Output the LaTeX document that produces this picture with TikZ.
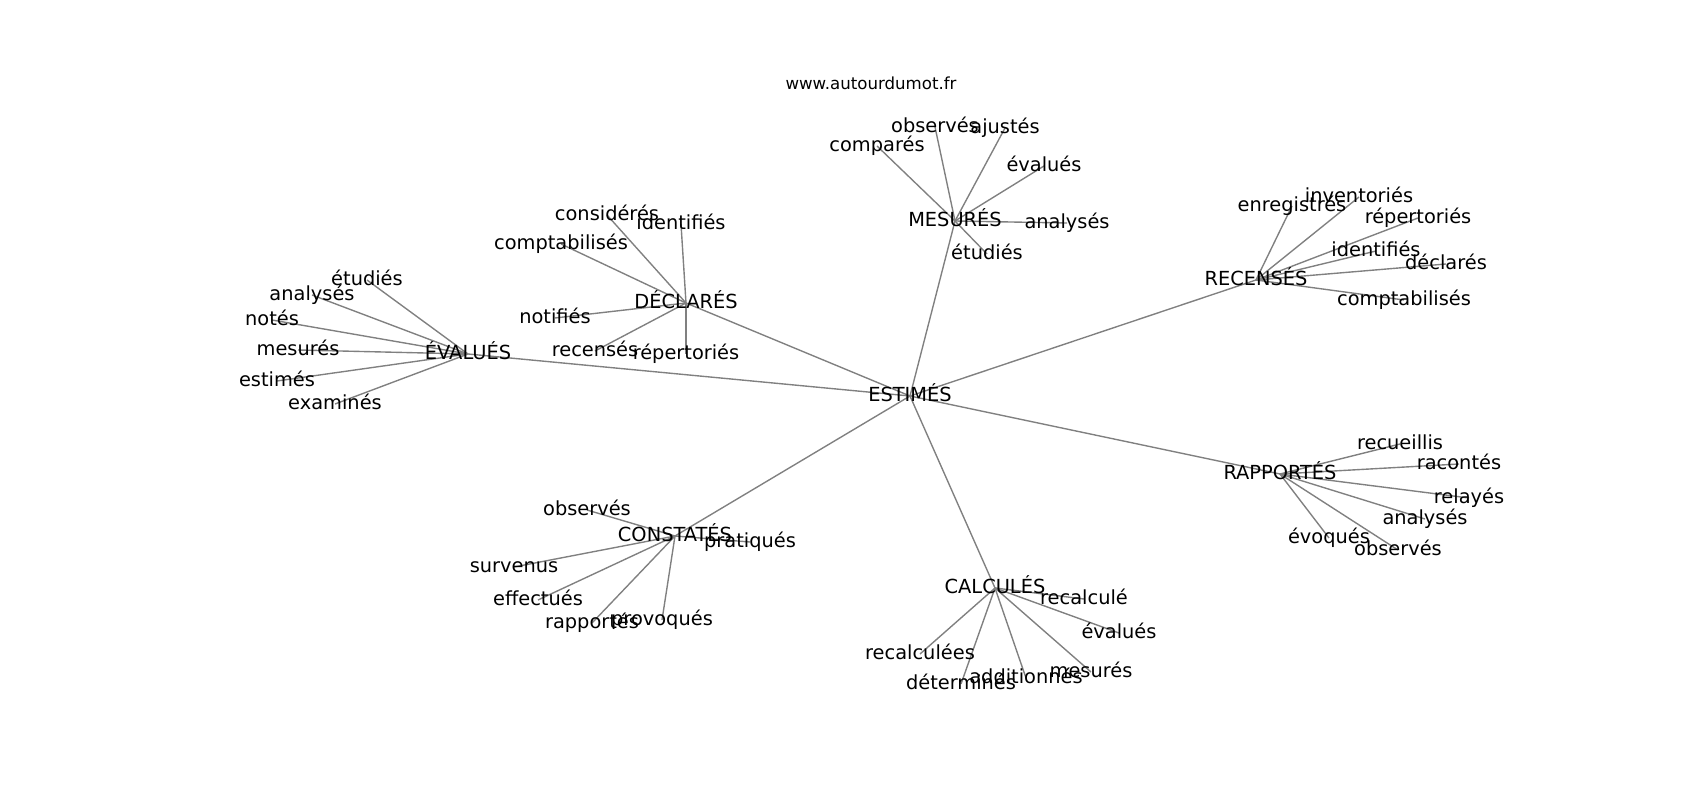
\documentclass[tikz,border=0pt]{standalone}
\usepackage{fontspec}
\setmainfont{DejaVu Sans}
\usetikzlibrary{backgrounds}

\tikzset{
  word/.style={inner sep=0pt, text height=10.6pt, text depth=2.9pt,
    font=\fontsize{14}{17}\selectfont},
  edge/.style={draw=gray, line width=1pt}
}

\begin{document}
\begin{tikzpicture}[x=0.01in, y=-0.01in]
    \useasboundingbox (0, 0) rectangle (1700, 800);
    \node[font=\fontsize{12}{14}\selectfont] (title) at (871, 83) {www.autourdumot.fr};

    \node[word] (E) at (910, 396) {ESTIMÉS};

    \node[word] (M) at (955, 221) {MESURÉS};
    \node[word] (M1) at (935, 127) {observés};
    \node[word] (M2) at (1005, 128) {ajustés};
    \node[word] (M3) at (877, 146) {comparés};
    \node[word] (M4) at (1044, 166) {évalués};
    \node[word] (M5) at (1067, 223) {analysés};
    \node[word] (M6) at (987, 254) {étudiés};

    \node[word] (D) at (686, 303) {DÉCLARÉS};
    \node[word] (D1) at (607, 215) {considérés};
    \node[word] (D2) at (681, 224) {identifiés};
    \node[word] (D3) at (561, 244) {comptabilisés};
    \node[word] (D4) at (555, 318) {notifiés};
    \node[word] (D5) at (595, 351) {recensés};
    \node[word] (D6) at (686, 354) {répertoriés};

    \node[word] (V) at (468, 354) {ÉVALUÉS};
    \node[word] (V1) at (367, 280) {étudiés};
    \node[word] (V2) at (312, 295) {analysés};
    \node[word] (V3) at (272, 320) {notés};
    \node[word] (V4) at (298, 350) {mesurés};
    \node[word] (V5) at (277, 381) {estimés};
    \node[word] (V6) at (335, 404) {examinés};

    \node[word] (R) at (1256, 280) {RECENSÉS};
    \node[word] (R1) at (1292, 206) {enregistrés};
    \node[word] (R2) at (1359, 197) {inventoriés};
    \node[word] (R3) at (1418, 218) {répertoriés};
    \node[word] (R4) at (1376, 251) {identifiés};
    \node[word] (R5) at (1446, 264) {déclarés};
    \node[word] (R6) at (1404, 300) {comptabilisés};

    \node[word] (P) at (1280, 474) {RAPPORTÉS};
    \node[word] (P1) at (1400, 444) {recueillis};
    \node[word] (P2) at (1459, 464) {racontés};
    \node[word] (P3) at (1469, 498) {relayés};
    \node[word] (P4) at (1425, 519) {analysés};
    \node[word] (P5) at (1329, 538) {évoqués};
    \node[word] (P6) at (1398, 550) {observés};

    \node[word] (C) at (675, 536) {CONSTATÉS};
    \node[word] (C1) at (587, 510) {observés};
    \node[word] (C2) at (750, 542) {pratiqués};
    \node[word] (C3) at (514, 567) {survenus};
    \node[word] (C4) at (538, 600) {effectués};
    \node[word] (C5) at (592, 623) {rapportés};
    \node[word] (C6) at (662, 620) {provoqués};

    \node[word] (K) at (995, 588) {CALCULÉS};
    \node[word] (K1) at (1084, 599) {recalculé};
    \node[word] (K2) at (1119, 633) {évalués};
    \node[word] (K3) at (920, 654) {recalculées};
    \node[word] (K4) at (961, 684) {déterminés};
    \node[word] (K5) at (1026, 678) {additionnés};
    \node[word] (K6) at (1091, 672) {mesurés};

    \begin{scope}[on background layer]
      \foreach \h in {M, D, V, R, P, C, K} {
        \draw[edge] (E.center) -- (\h.center);
        \foreach \i in {1, ..., 6} {
          \draw[edge] (\h.center) -- (\h\i.center);
        }
      }
    \end{scope}
  \end{tikzpicture}
\end{document}
